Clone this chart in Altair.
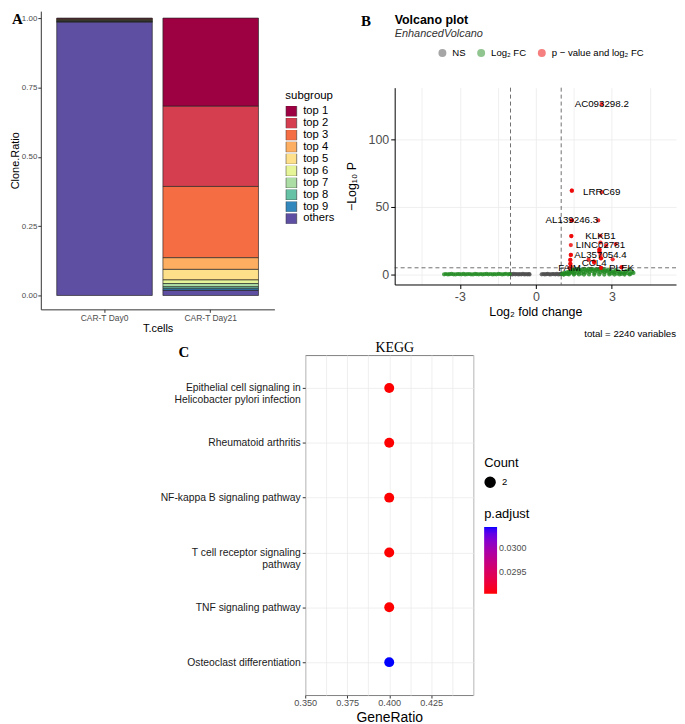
import altair as alt
import pandas as pd

SANS = "Liberation Sans"
SERIF = "Liberation Serif"

# ---------------- Panel A: clone ratio ----------------
groups = ["CAR-T Day0", "CAR-T Day21"]
subgroups = ["top 1", "top 2", "top 3", "top 4", "top 5",
             "top 6", "top 7", "top 8", "top 9", "others"]
day0_ratio = [0.0025, 0.0020, 0.0018, 0.0017, 0.0016, 0.0015, 0.0014, 0.0013, 0.0012, 0.985]
day21_ratio = [0.318, 0.289, 0.257, 0.042, 0.038, 0.013, 0.012, 0.007, 0.006, 0.018]
spectral = ["#9E0142", "#D53E4F", "#F46D43", "#FDAE61", "#FEE08B",
            "#E6F598", "#ABDDA4", "#66C2A5", "#3288BD", "#5E4FA2"]

# ---------------- Panel B: volcano ----------------
ns_x = [-0.99, -0.93, -0.87, -0.81, -0.75, -0.69, -0.63, -0.57, -0.51, -0.45, -0.39, -0.33, -0.27, -0.25,
        0.23, 0.29, 0.35, 0.41, 0.47, 0.53, 0.59, 0.65, 0.71, 0.77, 0.83, 0.89, 0.95, 0.99]
ns_y = [0.3, 0.1, 0.5, 0.2, 0.4, 0.1, 0.3, 0.2, 0.5, 0.1, 0.3, 0.2, 0.4, 0.1,
        0.2, 0.4, 0.1, 0.3, 0.5, 0.2, 0.1, 0.4, 0.3, 0.2, 0.5, 0.1, 0.3, 0.6]
fc_left_x = [-3.62, -3.55, -3.47, -3.40, -3.32, -3.25, -3.17, -3.09, -3.02, -2.94,
             -2.86, -2.79, -2.71, -2.63, -2.56, -2.48, -2.40, -2.33, -2.25, -2.17,
             -2.10, -2.02, -1.94, -1.87, -1.79, -1.71, -1.64, -1.56, -1.48, -1.41,
             -1.33, -1.25, -1.18, -1.10, -1.03]
fc_left_y = [0.2, 0.4, 0.1, 0.3, 0.5, 0.2, 0.1, 0.4, 0.3, 0.2,
             0.5, 0.1, 0.3, 0.4, 0.2, 0.1, 0.5, 0.3, 0.2, 0.4,
             0.1, 0.3, 0.5, 0.2, 0.4, 0.1, 0.3, 0.2, 0.5, 0.4,
             0.1, 0.3, 0.6, 0.2, 0.4]
fc_right_x = [1.02, 1.06, 1.10, 1.14, 1.18, 1.22, 1.26, 1.30, 1.34, 1.38,
              1.40, 1.42, 1.45, 1.48, 1.52, 1.56, 1.60, 1.64, 1.68, 1.72,
              1.76, 1.80, 1.84, 1.88, 1.92, 1.96, 2.00, 2.04, 2.08, 2.12,
              2.16, 2.20, 2.24, 2.28, 2.32, 2.36, 2.40, 2.44, 2.48, 2.52,
              2.56, 2.60, 2.64, 2.68, 2.72, 2.76, 2.80, 2.85, 2.90, 2.95,
              3.00, 3.05, 3.10, 3.15, 3.20, 3.26, 3.32, 3.38, 3.44, 3.50,
              3.56, 3.62, 3.68, 3.74, 3.80, 3.85,
              1.10, 1.30, 1.50, 1.70, 1.90, 2.10, 2.30, 2.50, 2.70, 2.90, 3.10, 3.30, 3.50, 3.70]
fc_right_y = [0.3, 0.8, 0.2, 1.2, 0.5, 1.6, 0.4, 2.0, 1.0, 3.0,
              2.2, 4.0, 1.5, 3.4, 0.6, 2.6, 3.8, 1.2, 4.1, 2.4,
              3.2, 0.8, 3.9, 2.0, 4.2, 1.4, 3.5, 2.8, 4.3, 1.8,
              3.6, 4.2, 2.5, 3.9, 1.1, 3.3, 4.0, 2.2, 3.7, 4.3,
              1.6, 3.4, 2.6, 4.1, 1.9, 3.0, 2.3, 3.6, 1.2, 2.8,
              0.9, 2.1, 1.5, 3.2, 0.7, 2.4, 1.3, 0.5, 1.8, 0.9,
              2.6, 1.1, 3.4, 0.6, 2.0, 1.2,
              0.0, 0.1, 0.0, 0.1, 0.0, 0.1, 0.0, 0.1, 0.0, 0.1, 0.0, 0.1, 0.0, 0.1]
sig_x = [1.42, 1.42, 1.42, 1.42, 1.40, 1.40, 1.38, 1.38, 1.38, 1.36,
         1.36, 1.36, 1.36, 1.38, 2.60, 2.60, 2.46, 2.55, 2.77, 2.51,
         2.51, 2.51, 2.51, 2.57, 2.57, 3.03, 2.29, 2.29, 2.08, 2.57,
         2.57, 3.38, 3.38, 3.15, 2.55, 2.55, 2.30, 1.33]
sig_y = [62, 62, 40, 40, 28.5, 28.5, 21.8, 14.5, 14.5, 10.8,
         10.8, 7.9, 7.9, 6.0, 126, 61, 40, 28.7, 21.5, 18.6,
         18.6, 16.9, 16.9, 12, 12, 11.3, 9.6, 9.6, 11, 5,
         5, 5.4, 5.4, 22.6, 23.7, 14.5, 8.8, 4.9]
gene_labels = ["AC093298.2", "LRRC69", "AL139246.3", "KLKB1", "LINC02781",
               "AL357054.4", "CCL4", "FAIM", "PLEK"]
gene_x = [2.60, 2.60, 1.42, 2.55, 2.55, 2.55, 2.30, 1.33, 3.38]
gene_y = [126, 61, 40, 28.7, 21.8, 14.5, 8.8, 4.6, 4.6]
fc_cutoffs = [-1, 1]
p_cutoff = [5]
volcano_types = ["NS", "Log\u2082 FC", "p \u2212 value and log\u2082 FC"]
volcano_colors = ["#4D4D4D", "#228B22", "#EE0000"]

# ---------------- Panel C: KEGG dot plot ----------------
pathways = ["Epithelial cell signaling in\nHelicobacter pylori infection",
            "Rheumatoid arthritis",
            "NF-kappa B signaling pathway",
            "T cell receptor signaling\npathway",
            "TNF signaling pathway",
            "Osteoclast differentiation"]
gene_ratio = [0.4, 0.4, 0.4, 0.4, 0.4, 0.4]
counts = [2, 2, 2, 2, 2, 2]
p_adjust = [0.02904, 0.02904, 0.02904, 0.02904, 0.02904, 0.03044]

# ================= build tables =================
rows = []
for g, vals in zip(groups, [day0_ratio, day21_ratio]):
    for i, (s, v) in enumerate(zip(subgroups, vals)):
        rows.append({"group": g, "subgroup": s, "ratio": v, "rank": len(subgroups) - 1 - i})
df_a = pd.DataFrame(rows)

vrows = []
for t, xs, ys in [(volcano_types[0], ns_x, ns_y),
                  (volcano_types[1], fc_left_x + fc_right_x, fc_left_y + fc_right_y),
                  (volcano_types[2], sig_x, sig_y)]:
    for x, y in zip(xs, ys):
        vrows.append({"log2fc": x, "nlp": y, "type": t})
df_b = pd.DataFrame(vrows)
df_lab = pd.DataFrame({"gene": gene_labels, "log2fc": gene_x, "nlp": gene_y})

df_c = pd.DataFrame({"Description": pathways, "GeneRatio": gene_ratio,
                     "Count": counts, "padj": p_adjust})


def note(text, x, y, **kw):
    """A free-standing annotation text (panel letters, titles, caption)."""
    return alt.Chart(pd.DataFrame({"t": [text]})).mark_text(**kw).encode(
        x=alt.value(x), y=alt.value(y), text="t:N")


def spacer(w, h):
    """An empty cell used only to offset panels in the concat layout."""
    return alt.Chart(pd.DataFrame({"v": [0]})).mark_rule(strokeWidth=0, opacity=0).encode(
        x=alt.value(0), x2=alt.value(0), y=alt.value(0), y2=alt.value(0)
    ).properties(width=w, height=h)


# ================= Panel A =================
bars = alt.Chart(df_a).mark_bar(stroke="#222222", strokeWidth=0.65).encode(
    x=alt.X("group:N", sort=groups,
            scale=alt.Scale(paddingInner=0.1, paddingOuter=0.15),
            axis=alt.Axis(title="T.cells", labelAngle=0, labelFontSize=8.5, labelColor="#4D4D4D",
                          titleFontSize=11, tickSize=3, labelPadding=1, titlePadding=1,
                          domainColor="#333333", tickColor="#333333")),
    y=alt.Y("ratio:Q", stack="zero",
            scale=alt.Scale(domain=[-0.05, 1.025], nice=False, zero=False),
            axis=alt.Axis(title="Clone.Ratio", values=[0, 0.25, 0.5, 0.75, 1.0], format=".2f",
                          labelFontSize=8, labelColor="#4D4D4D", titleFontSize=11, tickSize=3,
                          labelPadding=1, titlePadding=1, grid=False,
                          domainColor="#333333", tickColor="#333333")),
    color=alt.Color("subgroup:N", sort=subgroups,
                    scale=alt.Scale(domain=subgroups, range=spectral),
                    legend=alt.Legend(title="subgroup", orient="none", legendX=246, legendY=79,
                                      symbolType="square", symbolSize=118,
                                      symbolStrokeColor="#333333", symbolStrokeWidth=0.6,
                                      labelFontSize=11.3, titleFontSize=11.5, rowPadding=0,
                                      clipHeight=10.2, titlePadding=5, labelOffset=6,
                                      labelColor="black")),
    order=alt.Order("rank:Q", sort="ascending"),
)
letter_a = note("A", -29, 8, font=SERIF, fontWeight="bold", fontSize=15,
                align="left", baseline="middle", color="black")
chart_a = alt.layer(bars, letter_a).properties(width=235, height=300)

# ================= Panel B =================
tick_x = {"condition": {"test": "abs(datum.value) % 3 == 0", "value": 1}, "value": 0}
tick_y = {"condition": {"test": "datum.value % 50 == 0", "value": 1}, "value": 0}
points_b = alt.Chart(df_b).mark_circle(size=18).encode(
    x=alt.X("log2fc:Q",
            scale=alt.Scale(domain=[-5.57, 5.53], nice=False, zero=False),
            axis=alt.Axis(title="Log\u2082 fold change", values=[-4.5, -3, -1.5, 0, 1.5, 3, 4.5],
                          labelExpr="abs(datum.value) % 3 == 0 ? (datum.value < 0 ? '-' + abs(datum.value) : '' + datum.value) : ''",
                          labelOverlap=False, labelFlush=False, tickOpacity=tick_x,
                          grid=True, gridColor="#EBEBEB", gridWidth=0.8,
                          labelFontSize=12.5, titleFontSize=12.5, labelColor="#4D4D4D",
                          tickSize=4, domainColor="black", tickColor="black",
                          labelPadding=2, titlePadding=3)),
    y=alt.Y("nlp:Q",
            scale=alt.Scale(domain=[-7.35, 138.2], nice=False, zero=False),
            axis=alt.Axis(title="\u2212Log\u2081\u2080 P", values=[0, 25, 50, 75, 100, 125],
                          labelExpr="datum.value % 50 == 0 ? '' + datum.value : ''",
                          labelOverlap=False, labelFlush=False, tickOpacity=tick_y,
                          grid=True, gridColor="#EBEBEB", gridWidth=0.8,
                          labelFontSize=12.5, titleFontSize=12.5, labelColor="#4D4D4D",
                          tickSize=4, domainColor="black", tickColor="black",
                          labelPadding=2, titlePadding=10)),
    color=alt.Color("type:N", sort=volcano_types,
                    scale=alt.Scale(domain=volcano_types, range=volcano_colors),
                    legend=alt.Legend(title=None, orient="none", legendX=43, legendY=37,
                                      direction="horizontal", symbolType="circle", symbolSize=64,
                                      symbolOpacity=0.5, labelFontSize=9.6, labelColor="black",
                                      columnPadding=10, labelOffset=5)),
    opacity=alt.Opacity("type:N", sort=volcano_types,
                        scale=alt.Scale(domain=volcano_types, range=[0.8, 0.8, 0.55]),
                        legend=None),
)
vrule = alt.Chart(pd.DataFrame({"log2fc": fc_cutoffs})).mark_rule(
    color="#333333", strokeDash=[4, 3], strokeWidth=0.7).encode(x="log2fc:Q")
hrule = alt.Chart(pd.DataFrame({"nlp": p_cutoff})).mark_rule(
    color="#333333", strokeDash=[4, 3], strokeWidth=0.7).encode(y="nlp:Q")
labels_b = alt.Chart(df_lab).mark_text(fontSize=9.8, color="black").encode(
    x="log2fc:Q", y="nlp:Q", text="gene:N")
caption_b = note("total = 2240 variables", 283, 248, align="right", baseline="middle",
                 fontSize=9.7, color="black")
letter_b = note("B", -29, -67, font=SERIF, fontWeight="bold", fontSize=15,
                align="center", baseline="middle", color="black")
title_b = note("Volcano plot", 0, -74, fontWeight="bold", fontSize=12.5,
               align="left", baseline="top", color="black")
subtitle_b = note("EnhancedVolcano", 0, -54, fontStyle="italic", fontSize=11,
                  align="left", baseline="middle", color="#333333")
chart_b = alt.layer(points_b, vrule, hrule, labels_b, caption_b, letter_b,
                    title_b, subtitle_b).properties(width=283, height=198)

# ================= Panel C =================
major_c = "indexof(['0.35','0.375','0.4','0.425'], toString(datum.value)) >= 0"
points_c = alt.Chart(df_c).mark_circle(opacity=1).encode(
    x=alt.X("GeneRatio:Q",
            scale=alt.Scale(domain=[0.35, 0.45], nice=False, zero=False),
            axis=alt.Axis(title="GeneRatio",
                          values=[0.35, 0.3625, 0.375, 0.3875, 0.4, 0.4125, 0.425, 0.4375, 0.45],
                          labelExpr=major_c + " ? format(datum.value, '.3f') : ''",
                          tickOpacity={"condition": {"test": major_c, "value": 1}, "value": 0},
                          labelOverlap=False, labelFlush=False,
                          grid=True, gridColor="#EBEBEB", gridWidth=0.8,
                          labelFontSize=9.2, labelColor="#4D4D4D", titleFontSize=14,
                          tickSize=3, domain=False, tickColor="#333333",
                          labelPadding=1, titlePadding=2)),
    y=alt.Y("Description:N", sort=pathways,
            scale=alt.Scale(type="point", padding=0.6),
            axis=alt.Axis(title=None, labelExpr="split(datum.label, '\\n')",
                          labelFontSize=10.4, labelColor="#1A1A1A", labelLineHeight=12,
                          grid=True, gridColor="#EBEBEB", gridWidth=0.8,
                          tickSize=3, domain=False, tickColor="#333333", labelPadding=2,
                          minExtent=160, maxExtent=160)),
    size=alt.Size("Count:Q", scale=alt.Scale(domain=[0, 2], range=[0, 100]),
                  legend=alt.Legend(title="Count", orient="none", legendX=446, legendY=103,
                                    values=[2], format="d", symbolType="circle",
                                    symbolFillColor="black", symbolStrokeColor="black",
                                    symbolOpacity=1, titleFontSize=13, labelFontSize=9.5,
                                    labelColor="black", titlePadding=6, labelOffset=6)),
    color=alt.Color("padj:Q",
                    scale=alt.Scale(domain=[0.029043, 0.030436], range=["#FF0000", "#0000FF"],
                                    interpolate="lab"),
                    legend=alt.Legend(title="p.adjust", orient="none", legendX=446, legendY=154,
                                      direction="vertical", gradientLength=67, gradientThickness=13,
                                      values=[0.0295, 0.03], format=".4f", labelFontSize=9,
                                      labelColor="#4D4D4D", titleFontSize=13, titlePadding=6,
                                      gradientStrokeWidth=0)),
)
letter_c = note("C", -122, -3, font=SERIF, fontWeight="bold", fontSize=15,
                align="center", baseline="middle", color="black")
title_c = note("KEGG", 90, -7, font=SERIF, fontSize=14, align="center",
               baseline="middle", color="black")
chart_c = alt.layer(points_c, letter_c, title_c).properties(
    width=169, height=342,
    view=alt.ViewBackground(stroke="#808080", strokeWidth=1))

# ================= compose =================
# Concat layouts line up the plot origins of the first row / column, so
# empty spacer cells are used to offset panel B downwards and panel C rightwards.
panel_b = alt.vconcat(spacer(1, 1), chart_b, spacing=0)
top_row = alt.hconcat(chart_a, panel_b, spacing=8).resolve_scale(color="independent")
bottom_row = alt.hconcat(spacer(104, 1), chart_c, spacing=0)
chart = alt.vconcat(top_row, bottom_row, spacing=0).resolve_scale(
    color="independent", size="independent"
).properties(padding=0).configure(font=SANS).configure_view(
    stroke="transparent"
).configure_axis(
    labelFont=SANS, titleFont=SANS, titleFontWeight="normal", titleColor="black"
).configure_legend(
    labelFont=SANS, titleFont=SANS, titleFontWeight="normal", titleColor="black", padding=0
)

chart.save("out.html", embed_options={"renderer": "svg", "actions": False})
